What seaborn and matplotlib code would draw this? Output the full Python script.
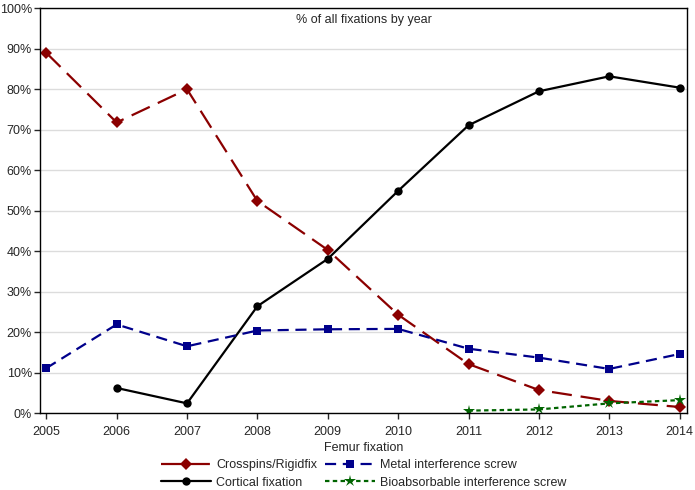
import pandas as pd
import seaborn as sns
import matplotlib.pyplot as plt
from matplotlib.ticker import PercentFormatter

# values (% of all fixations by year)
years = [2005, 2006, 2007, 2008, 2009, 2010, 2011, 2012, 2013, 2014]
crosspins = [89.0, 71.8, 80.0, 52.4, 40.3, 24.3, 12.1, 5.7, 3.0, 1.5]
cortical_years = [2006, 2007, 2008, 2009, 2010, 2011, 2012, 2013, 2014]
cortical = [6.2, 2.4, 26.4, 38.1, 54.9, 71.1, 79.5, 83.2, 80.4]
metal = [11.1, 21.9, 16.5, 20.4, 20.7, 20.8, 15.9, 13.7, 10.9, 14.6]
bio_years = [2011, 2012, 2013, 2014]
bio = [0.6, 0.9, 2.4, 3.2]

series_names = ['Crosspins/Rigidfix', 'Cortical fixation',
                'Metal interference screw', 'Bioabsorbable interference screw']

# build long table for seaborn
frames = [
    pd.DataFrame({'Year': years, 'Pct': crosspins, 'Fixation': series_names[0]}),
    pd.DataFrame({'Year': cortical_years, 'Pct': cortical, 'Fixation': series_names[1]}),
    pd.DataFrame({'Year': years, 'Pct': metal, 'Fixation': series_names[2]}),
    pd.DataFrame({'Year': bio_years, 'Pct': bio, 'Fixation': series_names[3]}),
]
df = pd.concat(frames, ignore_index=True)

sns.set_style('white')
plt.rcParams['font.family'] = ['Liberation Sans', 'DejaVu Sans']

colors = {series_names[0]: '#8b0000', series_names[1]: '#000000',
          series_names[2]: '#00008b', series_names[3]: '#006400'}
markers = {series_names[0]: 'D', series_names[1]: 'o',
           series_names[2]: 's', series_names[3]: '*'}
dashes = {series_names[0]: (9, 4), series_names[1]: '',
          series_names[2]: (5, 3), series_names[3]: (2, 1.5)}

fig, ax = plt.subplots(figsize=(6.95, 4.9), dpi=100)
sns.lineplot(data=df, x='Year', y='Pct', hue='Fixation', style='Fixation',
             hue_order=series_names, style_order=series_names,
             palette=colors, markers=markers, dashes=dashes,
             linewidth=1.6, markersize=6, markeredgewidth=0, ax=ax)
# make the star markers a bit larger like the reference
for line in ax.lines:
    if line.get_marker() == '*':
        line.set_markersize(9)

ax.set_xlim(2004.915, 2014.1)
ax.set_ylim(0, 100)
ax.set_xticks(years)
ax.set_yticks(range(0, 101, 10))
ax.yaxis.set_major_formatter(PercentFormatter(decimals=0))
ax.grid(axis='y', color='#dcdcdc', linewidth=1)
ax.set_xlabel('')
ax.set_ylabel('')
ax.tick_params(axis='both', direction='out', length=4, width=1, labelsize=9,
               left=True, bottom=True, pad=2)
ax.tick_params(axis='x', pad=5)
for s in ax.spines.values():
    s.set_color('black')
    s.set_linewidth(1)

ax.text(0.5, 0.985, '% of all fixations by year', transform=ax.transAxes,
        ha='center', va='top', fontsize=9)

handles, labels = ax.get_legend_handles_labels()
for h in handles:
    if h.get_marker() == '*':
        h.set_markersize(9)
ax.legend(handles, labels, title='Femur fixation', ncol=2, loc='upper center',
          bbox_to_anchor=(0.5, -0.052), frameon=False, fontsize=9,
          title_fontsize=9, handlelength=4, columnspacing=0.6,
          handletextpad=0.4, labelspacing=0.45, borderpad=0.1)

plt.subplots_adjust(left=0.058, right=0.988, top=0.983, bottom=0.157)
plt.savefig('out.png')
